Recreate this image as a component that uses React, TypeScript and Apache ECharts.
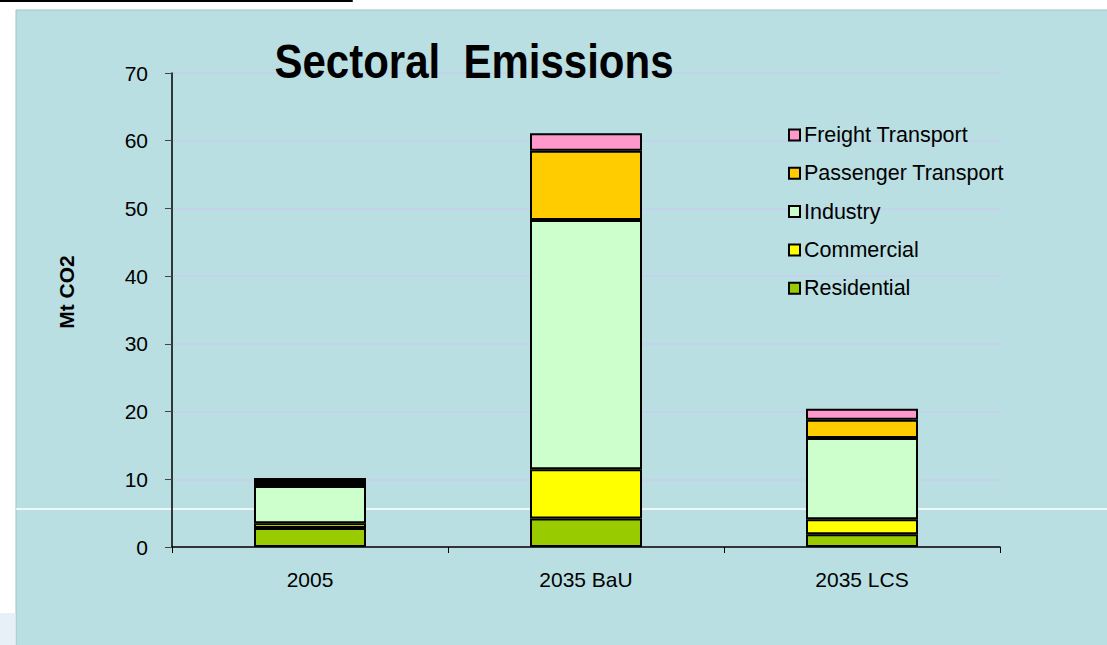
import React, { useEffect, useRef } from "react";
import * as echarts from "echarts";

const categories = ["2005", "2035 BaU", "2035 LCS"];
const residential = [2.8, 4.2, 1.9];
const commercial = [0.7, 7.3, 2.2];
const industry = [5.5, 36.8, 12.0];
const passengerTransport = [0.6, 10.2, 2.7];
const freightTransport = [0.6, 2.6, 1.6];
const yTicks = { min: 0, max: 70, interval: 10 };

const FONT = "'Liberation Sans', Arial, sans-serif";

export default function App() {
  const ref = useRef<HTMLDivElement>(null);
  useEffect(() => {
    if (!ref.current) return;
    const chart = echarts.init(ref.current, undefined, { renderer: "svg" });
    const mk = (name: string, data: number[], color: string) => ({
      name,
      type: "bar",
      stack: "total",
      data,
      barWidth: 112,
      itemStyle: { color, borderColor: "#000", borderWidth: 2 },
      emphasis: { disabled: true },
      z: 3,
    });
    chart.setOption({
      animation: false,
      backgroundColor: "#ffffff",
      textStyle: { fontFamily: FONT },
      graphic: [
        {
          type: "rect",
          z: -10,
          shape: { x: 16, y: 10, width: 1200, height: 700 },
          style: { fill: "#b9dfe2", stroke: "#9cc4c7", lineWidth: 1 },
        },
        {
          type: "rect",
          z: -10,
          shape: { x: 0, y: 613, width: 15.5, height: 40 },
          style: { fill: "#e6f0f6" },
        },
        {
          type: "line",
          z: -9,
          shape: { x1: 0, y1: 1, x2: 352, y2: 1 },
          style: { stroke: "#000", lineWidth: 2 },
        },
        {
          type: "line",
          z: -9,
          shape: { x1: 352, y1: 0, x2: 352, y2: 2 },
          style: { stroke: "#000", lineWidth: 1.5 },
        },
        {
          type: "line",
          z: -8,
          shape: { x1: 16, y1: 509, x2: 1107, y2: 509 },
          style: { stroke: "#ffffff", lineWidth: 1.5 },
        },
        {
          type: "text",
          z: 10,
          x: 474,
          y: 61,
          scaleY: 1.13,
          style: {
            text: "Sectoral  Emissions",
            fontSize: 42,
            fontWeight: "bold",
            fontFamily: FONT,
            fill: "#000",
            align: "center",
            verticalAlign: "middle",
          },
        },
        {
          type: "text",
          z: 10,
          x: 66,
          y: 292,
          rotation: Math.PI / 2,
          style: {
            text: "Mt CO2",
            fontSize: 21,
            fontWeight: "bold",
            fontFamily: FONT,
            fill: "#000",
            align: "center",
            verticalAlign: "middle",
          },
        },
      ],
      legend: {
        orient: "vertical",
        left: 788,
        top: 124,
        itemGap: 16.3,
        itemWidth: 11,
        itemHeight: 11,
        padding: 0,
        selectedMode: false,
        data: [
          "Freight Transport",
          "Passenger Transport",
          "Industry",
          "Commercial",
          "Residential",
        ],
        itemStyle: { borderColor: "#000", borderWidth: 2 },
        textStyle: { fontSize: 21.5, color: "#000", fontFamily: FONT, padding: [0, 0, 0, -1] },
        icon: "rect",
      },
      grid: { left: 172, top: 73, right: 107, bottom: 98, containLabel: false },
      xAxis: {
        type: "category",
        data: categories,
        axisLine: { lineStyle: { color: "#000", width: 1.5 } },
        axisTick: { show: true, length: 6, lineStyle: { color: "#000" } },
        axisLabel: { fontSize: 21, color: "#000", margin: 22, fontFamily: FONT },
        splitLine: { show: false },
      },
      yAxis: {
        type: "value",
        min: yTicks.min,
        max: yTicks.max,
        interval: yTicks.interval,
        axisLine: { show: true, lineStyle: { color: "#000", width: 1.5 } },
        axisTick: { show: true, length: 7, lineStyle: { color: "#444" } },
        axisLabel: { fontSize: 21, color: "#000", margin: 24, fontFamily: FONT },
        splitLine: { show: true, lineStyle: { color: "#c6cfee", width: 1.5 } },
      },
      series: [
        mk("Residential", residential, "#99cc00"),
        mk("Commercial", commercial, "#ffff00"),
        mk("Industry", industry, "#ccffcc"),
        mk("Passenger Transport", passengerTransport, "#ffcc00"),
        mk("Freight Transport", freightTransport, "#ff99cc"),
      ],
    });
    return () => chart.dispose();
  }, []);
  return (
    <div
      ref={ref}
      style={{ position: "fixed", left: 0, top: 0, width: 1107, height: 645 }}
    />
  );
}
